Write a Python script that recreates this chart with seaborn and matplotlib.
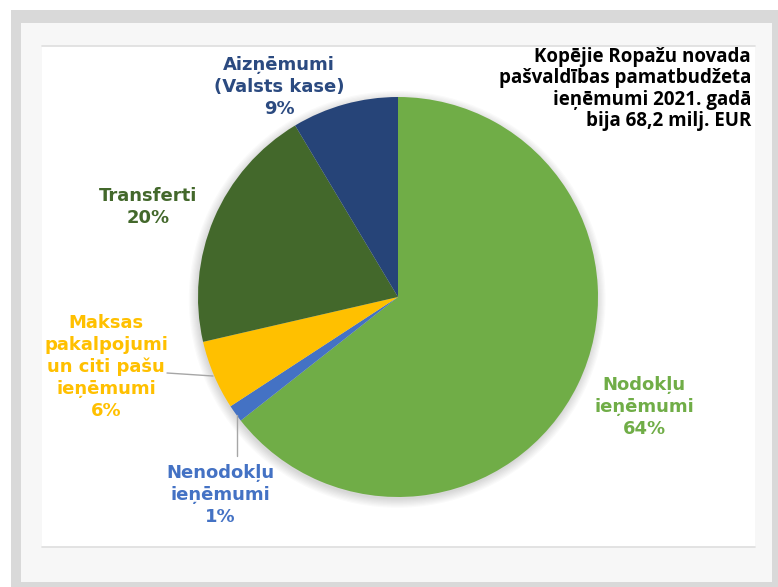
import matplotlib
matplotlib.use("Agg")
import matplotlib.pyplot as plt
import seaborn as sns
from matplotlib.patches import Rectangle, Circle
from matplotlib.lines import Line2D

sns.set_style("white")

# Dati: pamatbudžeta ieņēmumu struktūra (% no kopējiem), pulksteņrādītāja virzienā no augšas
labels = ["Nodokļu\nieņēmumi", "Nenodokļu\nieņēmumi", "Maksas\npakalpojumi\nun citi pašu\nieņēmumi",
          "Transferti", "Aizņēmumi\n(Valsts kase)"]
shares = [64.4, 1.4, 5.6, 20.0, 8.6]
colors = ["#70ad47", "#4472c4", "#ffc000", "#43682b", "#264478"]
text_colors = ["#70ad47", "#4472c4", "#ffc000", "#43682b", "#2b4a80"]
title_lines = ["Kopējie Ropažu novada", "pašvaldības pamatbudžeta", "ieņēmumi 2021. gadā", "bija 68,2 milj. EUR"]

W, H = 778, 587
fig = plt.figure(figsize=(W / 100, H / 100), dpi=100)
fig.patch.set_facecolor("white")


def px_rect(x0, y0, x1, y1, color, z=-10):
    # pikseļu koordinātes no augšējā kreisā stūra
    fig.patches.append(Rectangle((x0 / W, 1 - y1 / H), (x1 - x0) / W, (y1 - y0) / H,
                                 transform=fig.transFigure, facecolor=color,
                                 edgecolor="none", zorder=z))


def px_line(xs, ys, color, lw=1.0):
    fig.add_artist(Line2D([x / W for x in xs], [1 - y / H for y in ys],
                          transform=fig.transFigure, color=color, lw=lw, zorder=5))


# Fons: pelēks rāmis, gaišs panelis, balts diagrammas laukums
px_rect(11, 10, 778, 587, "#d9d9d9", -12)
px_rect(21, 23, 772, 582, "#f7f7f7", -11)
px_rect(42, 46, 755, 547, "white", -10)
px_line([42, 755], [46, 46], "#dedede", 1.2)
px_line([42, 755], [547, 547], "#dedede", 1.2)

# Pīrāga diagramma
cx, cy, r = 398, 297, 200
ax = fig.add_axes([(cx - r) / W, 1 - (cy + r) / H, 2 * r / W, 2 * r / H])
ax.patch.set_alpha(0)
ax.axis("off")

# mīksta ēna
for i in range(8):
    ax.add_patch(Circle((-0.004, -0.012), 1.0 + 0.006 * i, facecolor="black",
                        alpha=0.018, edgecolor="none", zorder=0, clip_on=False))

ax.pie(shares, colors=colors, startangle=90, counterclock=False, radius=1.0,
       wedgeprops={"linewidth": 0}, frame=False)
ax.set_xlim(-1.0, 1.0)
ax.set_ylim(-1.0, 1.0)
ax.set_aspect("equal")

# Etiķetes (centra pozīcijas pikseļos)
label_pos = [(644, 407), (220, 495), (106, 367), (148, 207), (279, 87)]
for lab, val, col, (x, y) in zip(labels, shares, text_colors, label_pos):
    fig.text(x / W, 1 - y / H, f"{lab}\n{round(val):d}%", ha="center", va="center",
             color=col, fontsize=13, fontweight="bold", linespacing=1.27,
             family="DejaVu Sans")

# Līnijas uz mazajām daļām
px_line([167, 213], [373, 376], "#a6a6a6", 1.0)
px_line([237, 237], [415, 456], "#a6a6a6", 1.0)

# Virsraksts augšējā labajā stūrī
fig.text(751 / W, 1 - 89 / H, "\n".join(title_lines), ha="right", va="center",
         color="black", fontsize=13.5, fontweight="bold", fontstretch="normal",
         linespacing=1.08, family=["Open Sans", "DejaVu Sans"])

fig.savefig("out.png", dpi=100, facecolor=fig.get_facecolor())
